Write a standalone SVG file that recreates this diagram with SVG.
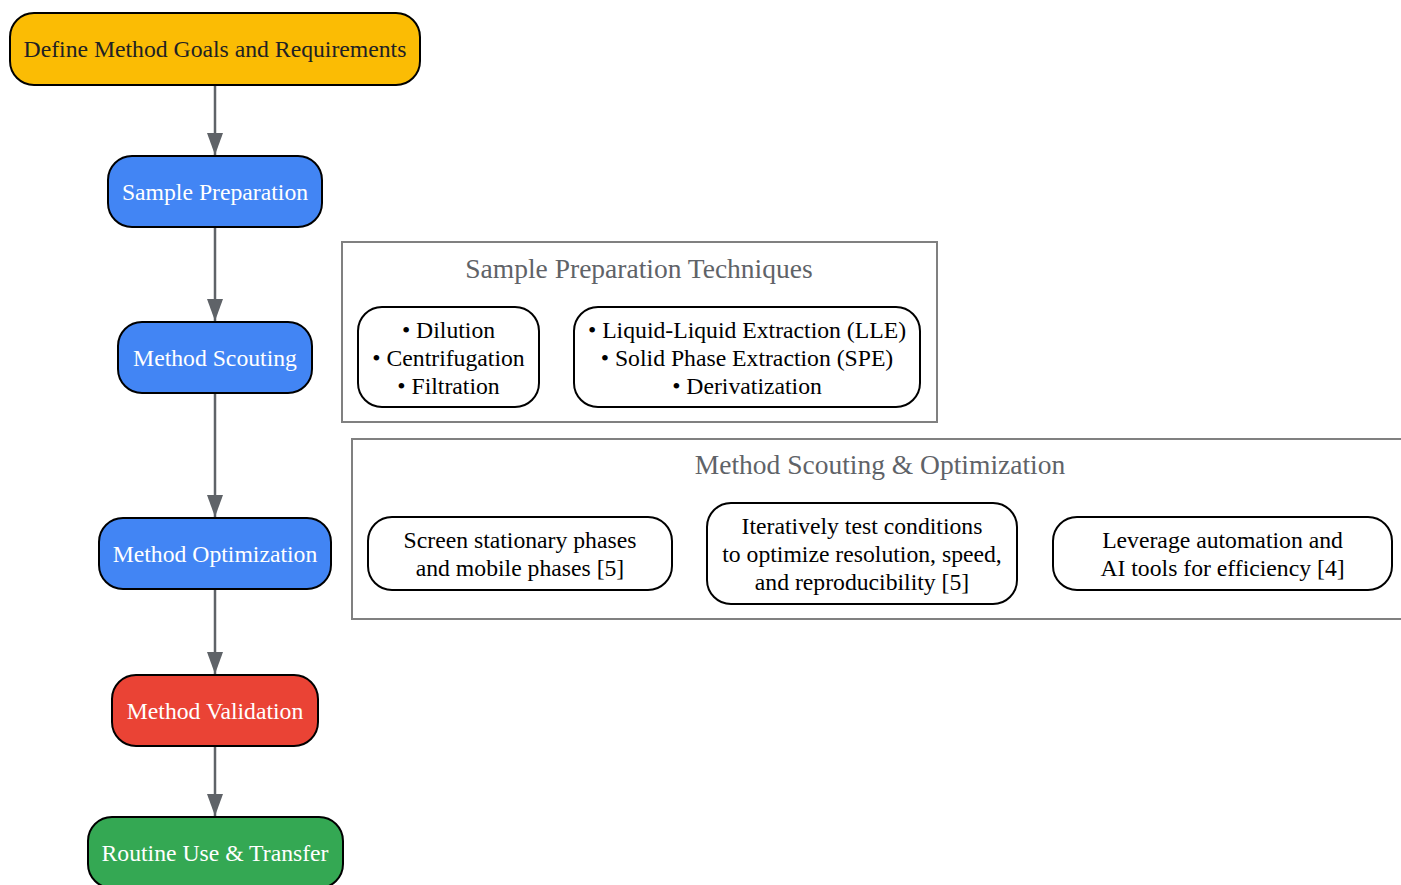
<svg xmlns="http://www.w3.org/2000/svg" width="1401" height="885" viewBox="0 0 1401 885">
<defs>
<marker id="arr" markerWidth="22" markerHeight="16" refX="22" refY="8" orient="auto" markerUnits="userSpaceOnUse" viewBox="0 0 22 16">
<path d="M0,0 L22,8 L0,16 Z" fill="#5f6368"/>
</marker>
</defs>
<style>
text{font-family:"Liberation Serif","Times New Roman",serif;font-size:23.7px;text-anchor:middle;dominant-baseline:central}
.n{stroke:#000;stroke-width:2}
.w{fill:#fff}
.d{fill:#202124}
.cl{fill:none;stroke:#808080;stroke-width:2}
.ct{fill:#5f6368;font-size:27.5px}
.sub{fill:#fff;stroke:#000;stroke-width:2}
.e{stroke:#5f6368;stroke-width:2.5;fill:none}
</style>
<rect width="1401" height="885" fill="#fff"/>
<g id="connectors">
<line class="e" x1="215" y1="85" x2="215" y2="155" marker-end="url(#arr)"/>
<line class="e" x1="215" y1="227" x2="215" y2="321" marker-end="url(#arr)"/>
<line class="e" x1="215" y1="393" x2="215" y2="517" marker-end="url(#arr)"/>
<line class="e" x1="215" y1="589" x2="215" y2="674" marker-end="url(#arr)"/>
<line class="e" x1="215" y1="746" x2="215" y2="816" marker-end="url(#arr)"/>
</g>
<g id="cluster_prep">
<rect class="cl" x="342" y="242" width="595" height="180"/>
<text class="ct" x="639" y="268">Sample Preparation Techniques</text>
</g>
<g id="prep_basic">
<rect class="sub" x="358" y="307" width="181" height="100" rx="24"/>
<text x="448.5" y="330">• Dilution</text>
<text x="448.5" y="358">• Centrifugation</text>
<text x="448.5" y="386">• Filtration</text>
</g>
<g id="prep_adv">
<rect class="sub" x="574" y="307" width="346" height="100" rx="24"/>
<text x="747" y="330">• Liquid-Liquid Extraction (LLE)</text>
<text x="747" y="358">• Solid Phase Extraction (SPE)</text>
<text x="747" y="386">• Derivatization</text>
</g>
<g id="cluster_scout">
<rect class="cl" x="352" y="439" width="1060" height="180"/>
<text class="ct" x="880" y="464">Method Scouting &amp; Optimization</text>
</g>
<g id="scout_screen">
<rect class="sub" x="368" y="517" width="304" height="73" rx="24"/>
<text x="520" y="540">Screen stationary phases</text>
<text x="520" y="568">and mobile phases [5]</text>
</g>
<g id="scout_iter">
<rect class="sub" x="707" y="503" width="310" height="101" rx="24"/>
<text x="862" y="526">Iteratively test conditions</text>
<text x="862" y="554">to optimize resolution, speed,</text>
<text x="862" y="582">and reproducibility [5]</text>
</g>
<g id="scout_ai">
<rect class="sub" x="1053" y="517" width="339" height="73" rx="24"/>
<text x="1222.5" y="540">Leverage automation and</text>
<text x="1222.5" y="568">AI tools for efficiency [4]</text>
</g>
<g id="goals">
<rect class="n" x="10" y="13" width="410" height="72" rx="24" fill="#fbbc04"/>
<text class="d" x="215" y="49">Define Method Goals and Requirements</text>
</g>
<g id="prep">
<rect class="n" x="108" y="156" width="214" height="71" rx="24" fill="#4285f4"/>
<text class="w" x="215" y="192">Sample Preparation</text>
</g>
<g id="scouting">
<rect class="n" x="118" y="322" width="194" height="71" rx="24" fill="#4285f4"/>
<text class="w" x="215" y="358">Method Scouting</text>
</g>
<g id="optimization">
<rect class="n" x="99" y="518" width="232" height="71" rx="24" fill="#4285f4"/>
<text class="w" x="215" y="554">Method Optimization</text>
</g>
<g id="validation">
<rect class="n" x="112" y="675" width="206" height="71" rx="24" fill="#ea4335"/>
<text class="w" x="215" y="711">Method Validation</text>
</g>
<g id="routine">
<rect class="n" x="88" y="817" width="255" height="71" rx="24" fill="#34a853"/>
<text class="w" x="215" y="853">Routine Use &amp; Transfer</text>
</g>
</svg>
